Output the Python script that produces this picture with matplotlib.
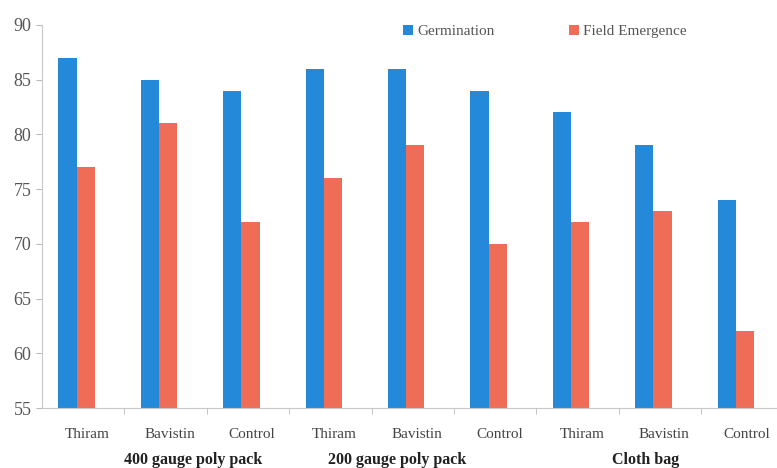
import matplotlib.pyplot as plt
import numpy as np

plt.rcParams['font.family'] = ['Liberation Serif', 'DejaVu Serif']

# Seed quality under three storage containers and treatments
treatments = ['Thiram', 'Bavistin', 'Control'] * 3
containers = ['400 gauge poly pack', '200 gauge poly pack', 'Cloth bag']
germination = [87, 85, 84, 86, 86, 84, 82, 79, 74]
field_emergence = [77, 81, 72, 76, 79, 70, 72, 73, 62]

blue = '#2389d8'
orange = '#ef6d57'

fig = plt.figure(figsize=(7.77, 4.68), dpi=100)
ax = fig.add_axes([0.054, 0.128, 0.946, 0.819])

x = np.arange(len(treatments))
w = 0.22
ax.bar(x - 0.19, germination, w, color=blue, label='Germination')
ax.bar(x + 0.03, field_emergence, w, color=orange, label='Field Emergence')

ax.set_ylim(55, 90)
ax.set_yticks(np.arange(55, 91, 5))
ax.set_xlim(-0.5, 8.42)
ax.set_xticks(x + 0.05)
ax.set_xticklabels(treatments, fontsize=11, color='#444444')
ax.set_xticks(np.arange(0.5, 8, 1), minor=True)
ax.tick_params(axis='x', which='major', length=0, pad=14)
ax.tick_params(axis='x', which='minor', length=4, color='#bbbbbb')
ax.tick_params(axis='y', labelsize=13, colors='#555555', length=4)
ax.tick_params(axis='y', color='#bbbbbb')

for side in ['top', 'right']:
    ax.spines[side].set_visible(False)
for side in ['left', 'bottom']:
    ax.spines[side].set_color('#c8c8c8')

# Container names under each group of treatments
for pos, name in zip([1.34, 3.81, 6.83], containers):
    ax.text(pos, -0.135, name, transform=ax.get_xaxis_transform(),
            ha='center', va='center', fontsize=11.5, fontweight='bold', color='#222222')

ax.legend(loc='upper left', bbox_to_anchor=(0.473, 1.035), ncol=2, frameon=False,
          fontsize=11, handlelength=0.6, handleheight=0.6, handletextpad=0.3,
          columnspacing=4.9, labelcolor='#555555')

fig.savefig('out.png', dpi=100)
